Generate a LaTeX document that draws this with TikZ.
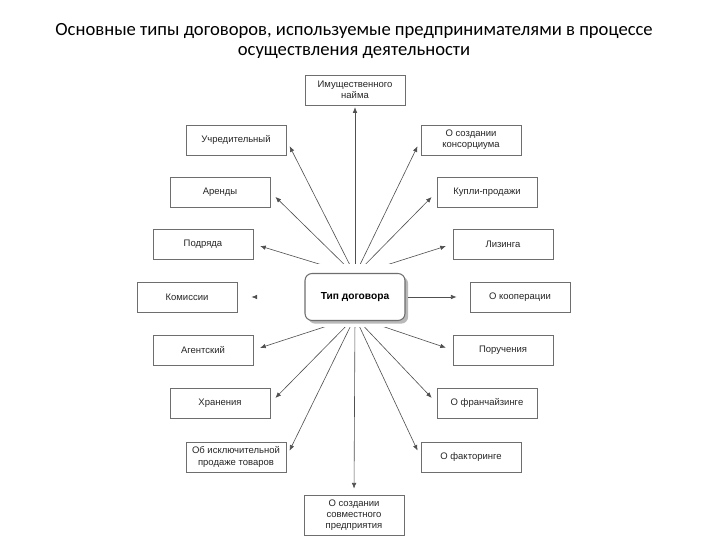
\documentclass[tikz,border=0pt]{standalone}
\usepackage{fontspec}
\setmainfont{Carlito}
\newfontfamily\boxfont{Liberation Sans}
\usetikzlibrary{arrows.meta, shadows}
\definecolor{lnk}{HTML}{505050}
\definecolor{frm}{HTML}{6E6E6E}

\begin{document}
\begin{tikzpicture}[x=0.02cm, y=-0.02cm,
    kind/.style={draw=frm, line width=0.5pt, fill=white, text=black!85,
      minimum width=2cm, minimum height=0.6cm, inner sep=1pt, align=center,
      font=\boxfont\fontsize{5.4}{6.4}\selectfont},
    hub/.style={draw=frm, line width=0.6pt, fill=white, rounded corners=4pt,
      minimum width=2cm, minimum height=0.94cm,
      font=\boxfont\bfseries\fontsize{5.8}{6.8}\selectfont,
      drop shadow={shadow xshift=1.8pt, shadow yshift=-1.8pt, fill=black!55}},
    arr/.style={lnk, line width=0.35pt, -{Latex[length=3.2pt, width=2.6pt]}, shorten >=4pt}]
    \useasboundingbox (0,0) rectangle (720,540);
    % title
    \node[font=\fontsize{10.6}{11.8}\selectfont, align=center] (title) at (354,41)
      {Основные типы договоров, используемые предпринимателями в процессе\\
       осуществления деятельности};
    % centre
    \node[hub] (tip) at (355,297) {Тип договора};
    \coordinate (hubT) at (355,275);
    \coordinate (hubB) at (355,317);
    % left column
    \node[kind] (uchr) at (236,140) {Учредительный};
    \node[kind] (arend) at (220,192) {Аренды};
    \node[kind] (podr) at (203,244) {Подряда};
    \node[kind] (komis) at (187,297) {Комиссии};
    \node[kind] (agent) at (203,350) {Агентский};
    \node[kind] (hran) at (220,403) {Хранения};
    \node[kind] (iskl) at (236,457) {Об исключительной\\продаже товаров};
    % right column
    \node[kind] (kons) at (471,140) {О создании\\консорциума};
    \node[kind] (kupli) at (487,192) {Купли-продажи};
    \node[kind] (lizing) at (503,244) {Лизинга};
    \node[kind] (koop) at (520,297) {О кооперации};
    \node[kind] (poruch) at (503,350) {Поручения};
    \node[kind] (franch) at (487,403) {О франчайзинге};
    \node[kind] (faktor) at (471,457) {О факторинге};
    % top and bottom
    \node[kind] (imush) at (355,90) {Имущественного\\найма};
    \node[kind, minimum height=0.8cm] (sovm) at (354,515) {О создании\\совместного\\предприятия};
    % upper fan
    \begin{scope}
      \clip (0,0) rectangle (720,264);
      \draw[arr, shorten >=1pt] (hubT) -- (imush.south);
      \foreach \t in {uchr, arend, podr}
        \draw[arr] (hubT) -- (\t.east);
      \foreach \t in {kons, kupli, lizing}
        \draw[arr] (hubT) -- (\t.west);
    \end{scope}
    % lower fan
    \begin{scope}
      \clip (0,328) rectangle (720,540);
      \draw[arr, shorten >=3.4pt] (hubB) -- (sovm.north);
      \foreach \t in {agent, hran, iskl}
        \draw[arr] (hubB) -- (\t.east);
      \foreach \t in {poruch, franch, faktor}
        \draw[arr] (hubB) -- (\t.west);
    \end{scope}
    % sides
    \draw[arr, shorten <=1.5pt, shorten >=7.4pt] (tip.east) -- (koop.west);
    \draw[arr, draw=black!6, -{Latex[length=3.2pt, width=2.6pt, color=lnk]},
      shorten <=28pt, shorten >=8pt] (tip.west) -- (komis.east);
\end{tikzpicture}
\end{document}
